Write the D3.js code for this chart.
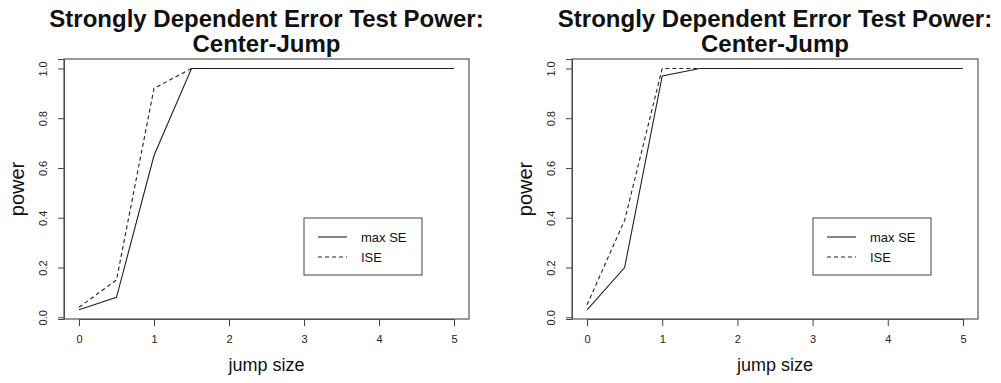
<!DOCTYPE html>
<html>
<head>
<meta charset="UTF-8">
<script src="https://cdnjs.cloudflare.com/ajax/libs/d3/7.8.5/d3.min.js"></script>
<style>
body { margin: 0; background: white; }
svg { font-family: 'Liberation Sans', Arial, sans-serif; }
</style>
</head>
<body>
<script>
// power curves
var jumpSizes  = [0, 0.5, 1, 1.5, 2, 2.5, 3, 3.5, 4, 4.5, 5];
var leftMaxSE  = [0.03, 0.08, 0.65, 1, 1, 1, 1, 1, 1, 1, 1];
var leftISE    = [0.04, 0.15, 0.92, 1, 1, 1, 1, 1, 1, 1, 1];
var rightMaxSE = [0.03, 0.20, 0.97, 1, 1, 1, 1, 1, 1, 1, 1];
var rightISE   = [0.05, 0.39, 1.00, 1, 1, 1, 1, 1, 1, 1, 1];
var xTicks = [0, 1, 2, 3, 4, 5];
var yTicks = [0, 0.2, 0.4, 0.6, 0.8, 1.0];
var titleLines = ["Strongly Dependent Error Test Power:", "Center-Jump"];
var seriesNames = ["max SE", "ISE"];

var width = 1001, height = 383;

var svg = d3.select("body").append("svg")
    .attr("width", width)
    .attr("height", height);

drawPanel(64, 469, leftMaxSE, leftISE);
drawPanel(572, 978, rightMaxSE, rightISE);

function drawPanel(left, right, maxSE, ise) {
    var top = 59, bottom = 319;
    var pad = (right - left) * 0.04 / 1.08;

    var x = d3.scaleLinear()
        .domain([0, 5])
        .range([left + pad, right - pad]);
    var y = d3.scaleLinear()
        .domain([-0.007, 1.038])
        .range([bottom, top]);

    var g = svg.append("g");

    // title
    var cx = (left + right) / 2;
    g.selectAll("text.title")
        .data(titleLines)
        .enter().append("text")
        .attr("class", "title")
        .attr("x", cx)
        .attr("y", function(d, i) { return 27 + i * 25; })
        .attr("text-anchor", "middle")
        .attr("font-size", 24)
        .attr("font-weight", "bold")
        .attr("fill", "#111")
        .text(function(d) { return d; });

    // axes
    var xa = g.append("g")
        .attr("transform", "translate(0," + bottom + ")")
        .call(d3.axisBottom(x).tickValues(xTicks).tickFormat(d3.format("d")).tickSize(7).tickPadding(9));
    xa.select(".domain").attr("stroke", "#444");
    xa.selectAll(".tick line").attr("stroke", "#444");
    xa.selectAll(".tick text")
        .attr("font-size", 11)
        .attr("fill", "#222")
        .attr("font-family", "'Liberation Sans', Arial, sans-serif");

    var ya = g.append("g")
        .attr("transform", "translate(" + left + ",0)")
        .call(d3.axisLeft(y).tickValues(yTicks).tickSize(6).tickFormat(d3.format(".1f")));
    ya.select(".domain").attr("stroke", "#444");
    ya.selectAll(".tick line").attr("stroke", "#444");
    ya.selectAll(".tick text")
        .attr("x", null)
        .attr("dy", null)
        .attr("text-anchor", "middle")
        .attr("transform", "translate(-17,0) rotate(-90)")
        .attr("font-size", 11)
        .attr("fill", "#222")
        .attr("font-family", "'Liberation Sans', Arial, sans-serif");

    // box
    g.append("rect")
        .attr("x", left)
        .attr("y", top)
        .attr("width", right - left)
        .attr("height", bottom - top)
        .attr("fill", "none")
        .attr("stroke", "#555")
        .attr("stroke-width", 1.2);

    // axis labels
    g.append("text")
        .attr("x", cx)
        .attr("y", 371)
        .attr("text-anchor", "middle")
        .attr("font-size", 18)
        .attr("fill", "#111")
        .text("jump size");
    g.append("text")
        .attr("transform", "translate(" + (left - 40) + "," + ((top + bottom) / 2) + ") rotate(-90)")
        .attr("text-anchor", "middle")
        .attr("font-size", 20)
        .attr("fill", "#111")
        .text("power");

    // curves
    var line = d3.line()
        .x(function(d, i) { return x(jumpSizes[i]); })
        .y(function(d) { return y(d); });

    g.append("path")
        .attr("d", line(maxSE))
        .attr("fill", "none")
        .attr("stroke", "#222")
        .attr("stroke-width", 1.1);
    g.append("path")
        .attr("d", line(ise))
        .attr("fill", "none")
        .attr("stroke", "#222")
        .attr("stroke-width", 1.1)
        .attr("stroke-dasharray", "4,3");

    // legend
    var lx = right - 165, ly = 218;
    var legend = g.append("g").attr("transform", "translate(" + lx + "," + ly + ")");
    legend.append("rect")
        .attr("width", 118)
        .attr("height", 57)
        .attr("fill", "white")
        .attr("stroke", "#555")
        .attr("stroke-width", 1.1);
    var rows = legend.selectAll("g.row")
        .data(seriesNames)
        .enter().append("g")
        .attr("class", "row")
        .attr("transform", function(d, i) { return "translate(0," + (19 + i * 20) + ")"; });
    rows.append("line")
        .attr("x1", 14).attr("x2", 43)
        .attr("stroke", "#222")
        .attr("stroke-width", 1.1)
        .attr("stroke-dasharray", function(d, i) { return i ? "4,3" : null; });
    rows.append("text")
        .attr("x", 57)
        .attr("dy", "0.35em")
        .attr("font-size", 13)
        .attr("fill", "#111")
        .text(function(d) { return d; });
}
</script>
</body>
</html>
